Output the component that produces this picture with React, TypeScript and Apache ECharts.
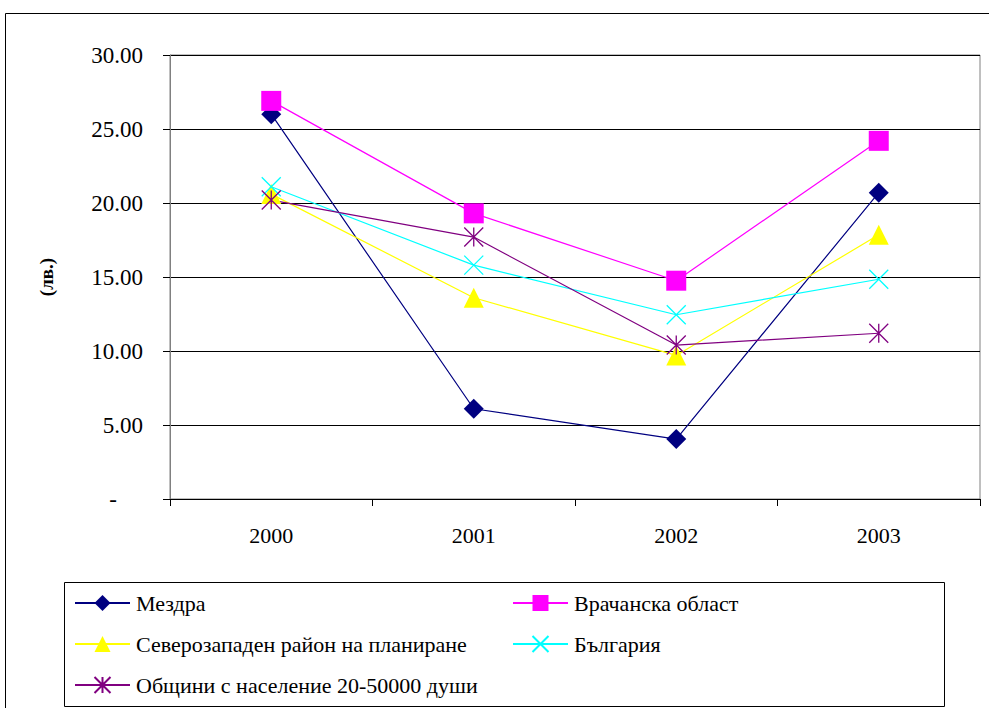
import React, { useEffect, useRef } from "react";
import * as echarts from "echarts";

const years = ["2000", "2001", "2002", "2003"];
const mezdra = [26.0, 6.1, 4.05, 20.7];
const vratsa = [26.9, 19.3, 14.75, 24.2];
const severozapaden = [20.6, 13.6, 9.7, 17.85];
const bulgaria = [21.1, 15.8, 12.45, 14.85];
const obshtini = [20.2, 17.7, 10.4, 11.2];

const seriesNames = [
  "Мездра",
  "Врачанска област",
  "Северозападен район на планиране",
  "България",
  "Общини с население 20-50000 души",
];

const FONT = '"Times New Roman", "Liberation Serif", "DejaVu Serif", serif';

export default function App() {
  const ref = useRef<HTMLDivElement>(null);
  useEffect(() => {
    if (!ref.current) return;
    const chart = echarts.init(ref.current, undefined, { renderer: "svg" });
    const xSym = "path://M0,0L10,10M10,0L0,10";
    const starSym = "path://M0,0L10,10M10,0L0,10M5,0L5,10";
    const mk = (name: string, data: number[], color: string, symbol: string, size: number, stroke = false) => ({
      name,
      type: "line",
      data,
      symbol,
      symbolSize: size,
      showSymbol: true,
      lineStyle: { color, width: 1.2 },
      itemStyle: stroke
        ? { color: "rgba(0,0,0,0)", borderColor: color, borderWidth: 1.3 }
        : { color, borderWidth: 0 },
      emphasis: { disabled: true },
      z: 3,
    });
    const legendText = { color: "#000", fontSize: 22, fontFamily: FONT, padding: [0, 0, 0, 1] };
    chart.setOption({
      animation: false,
      textStyle: { fontFamily: FONT },
      grid: { left: 170, right: 9, top: 55, bottom: 209, show: true, borderColor: "#808080", borderWidth: 1 },
      xAxis: {
        type: "category",
        data: years,
        boundaryGap: true,
        axisLine: { lineStyle: { color: "#000", width: 1 } },
        axisTick: { show: true, length: 7, lineStyle: { color: "#000" } },
        axisLabel: { color: "#000", fontSize: 22, fontFamily: FONT, margin: 25 },
      },
      yAxis: {
        type: "value",
        min: 0,
        max: 30,
        interval: 5,
        name: "(лв.)",
        nameLocation: "middle",
        nameGap: 114,
        nameTextStyle: { color: "#000", fontSize: 19, fontWeight: "bold", fontFamily: FONT },
        axisLine: { show: true, lineStyle: { color: "#808080", width: 1 } },
        axisTick: { show: true, length: 7, lineStyle: { color: "#000" } },
        splitLine: { lineStyle: { color: "#000", width: 1 } },
        axisLabel: {
          color: "#000",
          fontSize: 23,
          fontFamily: FONT,
          margin: 27,
          formatter: (v: number) => (v === 0 ? "{d|-}" : v.toFixed(2)),
          rich: { d: { fontSize: 23, fontFamily: FONT, color: "#000", padding: [0, 26, 0, 0] } },
        },
      },
      legend: [
        {
          data: [seriesNames[0], seriesNames[2], seriesNames[4]],
          orient: "vertical",
          left: 74,
          top: 592,
          padding: 0,
          itemWidth: 55,
          itemHeight: 20,
          itemGap: 19,
          textStyle: legendText,
          selectedMode: false,
        },
        {
          data: [seriesNames[1], seriesNames[3]],
          orient: "vertical",
          left: 512,
          top: 592,
          padding: 0,
          itemWidth: 55,
          itemHeight: 20,
          itemGap: 19,
          textStyle: legendText,
          selectedMode: false,
        },
      ],
      graphic: [
        {
          type: "rect",
          shape: { x: 5.5, y: 13.5, width: 1100, height: 800 },
          style: { fill: "none", stroke: "#000", lineWidth: 1 },
          silent: true,
          z: -10,
        },
        {
          type: "rect",
          shape: { x: 64.5, y: 582.5, width: 880, height: 124 },
          style: { fill: "none", stroke: "#000", lineWidth: 1 },
          silent: true,
        },
      ],
      series: [
        mk(seriesNames[0], mezdra, "#000080", "diamond", 20),
        mk(seriesNames[1], vratsa, "#FF00FF", "rect", 20),
        mk(seriesNames[2], severozapaden, "#FFFF00", "triangle", 20),
        mk(seriesNames[3], bulgaria, "#00FFFF", xSym, 19, true),
        mk(seriesNames[4], obshtini, "#800080", starSym, 19, true),
      ],
    });
    return () => chart.dispose();
  }, []);
  return (
    <div
      ref={ref}
      style={{ position: "fixed", left: 0, top: 0, width: 989, height: 708, background: "#fff" }}
    />
  );
}
